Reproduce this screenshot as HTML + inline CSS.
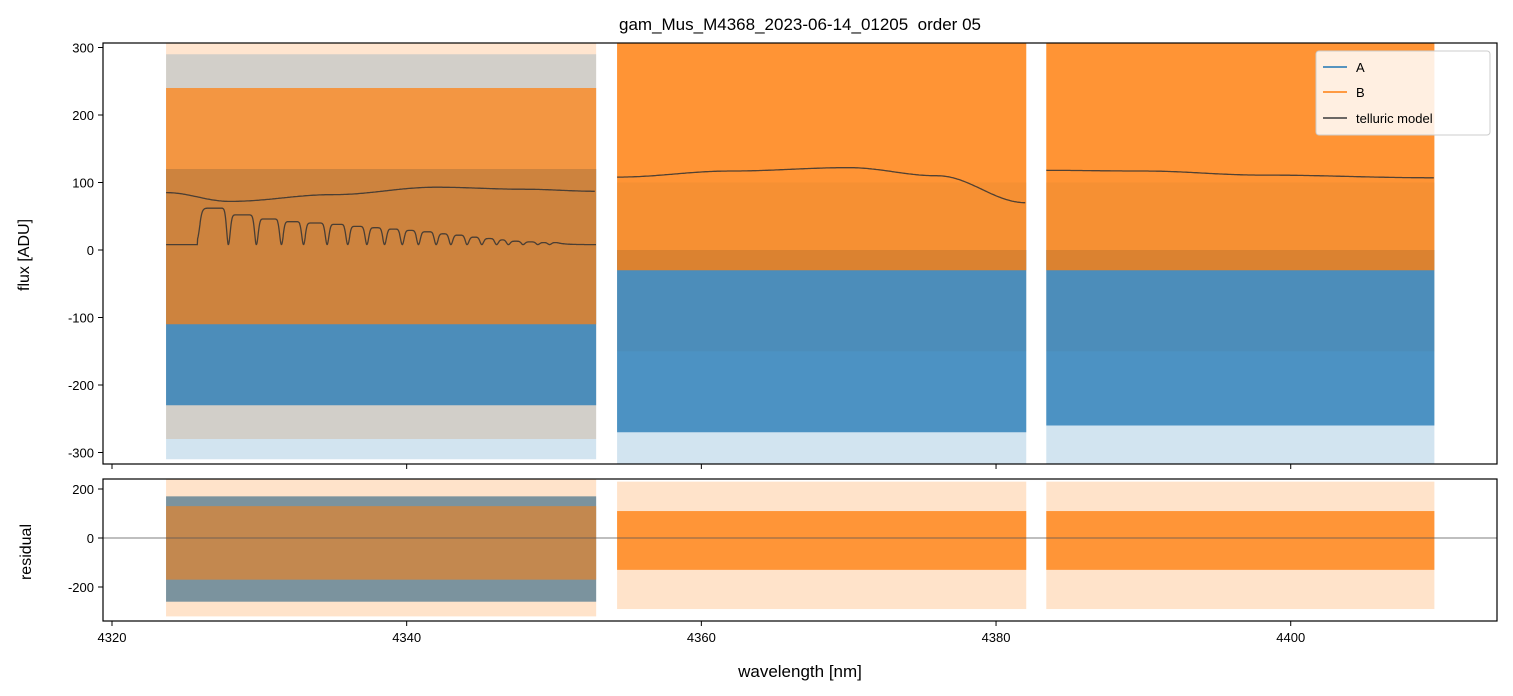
<!DOCTYPE html>
<html><head><meta charset="utf-8">
<style>
html,body{margin:0;padding:0;background:#fff;}
svg{display:block;font-family:"Liberation Sans","DejaVu Sans",sans-serif;}
</style></head>
<body>
<svg id="chart" width="1513" height="696" viewBox="0 0 1513 696" xmlns="http://www.w3.org/2000/svg">
<defs>
<clipPath id="clipTop"><rect x="103" y="43" width="1394" height="421"/></clipPath>
<clipPath id="clipBot"><rect x="103" y="479" width="1394" height="142"/></clipPath>
</defs>
<rect width="1513" height="696" fill="#fff"/>
<text x="800" y="30" font-size="17" text-anchor="middle" fill="#000" style="white-space:pre">gam_Mus_M4368_2023-06-14_01205  order 05</text>
<g id="topData" clip-path="url(#clipTop)"></g>
<g id="botData" clip-path="url(#clipBot)"></g>
<rect x="103" y="43" width="1394" height="421" fill="none" stroke="#000" stroke-width="1.2"/>
<rect x="103" y="479" width="1394" height="142" fill="none" stroke="#000" stroke-width="1.2"/>
<g id="axes"></g>
<text transform="translate(29,255) rotate(-90)" font-size="16" text-anchor="middle">flux [ADU]</text>
<text transform="translate(31,552) rotate(-90)" font-size="16" text-anchor="middle">residual</text>
<text x="800" y="677" font-size="17" text-anchor="middle">wavelength [nm]</text>
<g>
<rect x="1316" y="51" width="174" height="84" rx="3" fill="#fff" fill-opacity="0.85" stroke="#ccc"/>
<line x1="1323" y1="67" x2="1347" y2="67" stroke="#1f77b4" stroke-width="1.5"/>
<text x="1356" y="72" font-size="13">A</text>
<line x1="1323" y1="92" x2="1347" y2="92" stroke="#ff7f0e" stroke-width="1.5"/>
<text x="1356" y="97" font-size="13">B</text>
<line x1="1323" y1="118" x2="1347" y2="118" stroke="#3a3a3a" stroke-width="1.5"/>
<text x="1356" y="123" font-size="13">telluric model</text>
</g>
</svg>
<script>
// ---- data ----
const xTicks = [4320, 4340, 4360, 4380, 4400];
const yTicksTop = [-300, -200, -100, 0, 100, 200, 300];
const yTicksBot = [-200, 0, 200];
const segStart = [4323.67, 4354.28, 4383.41];
const segEnd = [4352.86, 4382.05, 4409.75];
// flux envelopes per segment (dense core low/high, spike low/high)
const aCoreLo = [-230, -270, -260];
const aCoreHi = [120, 0, 0];
const aSpikeLo = [-310, -330, -330];
const aSpikeHi = [290, 100, 100];
const bCoreLo = [-110, -30, -30];
const bCoreHi = [240, 310, 310];
const bSpikeLo = [-280, -150, -150];
const bSpikeHi = [310, 330, 330];
// residual envelopes
const rbCoreLo = [-170, -130, -130];
const rbCoreHi = [130, 110, 110];
const rbSpikeLo = [-320, -290, -290];
const rbSpikeHi = [240, 230, 230];
const raCoreLo = [-260];
const raCoreHi = [170];
// telluric continuum curves
const contW = [[4323.67, 4328, 4335, 4342, 4348, 4352.86],[4354.28, 4362, 4370, 4376, 4382.05],[4383.41, 4390, 4398, 4409.75]];
const contF = [[85, 72, 82, 93, 90, 87],[108, 117, 122, 110, 70],[118, 117, 111, 107]];
// absorption band in segment 1
const bandStartW = 4325.8;
const bandBase = 8;
const dipW = [4327.9,4329.8,4331.5,4333.0,4334.6,4336.0,4337.3,4338.5,4339.7,4340.8,4342.0,4343.0,4344.1,4345.1,4346.1,4346.9,4347.9,4348.9,4349.7];
const plateauF = [62,52,46,42,40,38,35,33,31,29,27,24,22,19,17,15,13,12,11];

// ---- axes ----
const X0=103,X1=1497, W0=4319.39, W1=4414.0;
const xs = w => X0 + (w-W0)/(W1-W0)*(X1-X0);
const yTop = v => 250 - v*0.675;
const yBot = v => 538 - v*0.245;
const NS='http://www.w3.org/2000/svg';
function el(tag, attrs, parent){const e=document.createElementNS(NS,tag);for(const k in attrs)e.setAttribute(k,attrs[k]);parent.appendChild(e);return e;}
const axesG=document.getElementById('axes');
xTicks.forEach(t=>{
  const x=xs(t);
  el('line',{x1:x,y1:464,x2:x,y2:469,stroke:'#000'},axesG);
  el('line',{x1:x,y1:621,x2:x,y2:626,stroke:'#000'},axesG);
  const tx=el('text',{x:x,y:642,'font-size':13,'text-anchor':'middle'},axesG);
  tx.textContent=t;
  
  
});
yTicksTop.forEach(t=>{
  const y=yTop(t);
  el('line',{x1:98,y1:y,x2:103,y2:y,stroke:'#000'},axesG);
  const tx=el('text',{x:94,y:y+5,'font-size':13,'text-anchor':'end'},axesG);
  tx.textContent=t;
  
  
});
yTicksBot.forEach(t=>{
  const y=yBot(t);
  el('line',{x1:98,y1:y,x2:103,y2:y,stroke:'#000'},axesG);
  const tx=el('text',{x:94,y:y+5,'font-size':13,'text-anchor':'end'},axesG);
  tx.textContent=t;
  
  
});

// ---- bands ----
const gTop=document.getElementById('topData'), gBot=document.getElementById('botData');
function band(g, i, lo, hi, yf, color, op, name){
  const x0=xs(segStart[i]), x1=xs(segEnd[i]);
  const r=el('rect',{x:x0,y:yf(hi),width:x1-x0,height:yf(lo)-yf(hi),fill:color,'fill-opacity':op},g);
  
  
}
for(let i=0;i<3;i++){
  band(gTop,i,bSpikeLo[i],bSpikeHi[i],yTop,'#ff7f0e',0.2,'series-b-spikes');
  band(gTop,i,aSpikeLo[i],aSpikeHi[i],yTop,'#1f77b4',0.2,'series-a-spikes');
  band(gTop,i,aCoreLo[i],aCoreHi[i],yTop,'#1f77b4',0.75,'series-a-band');
}
for(let i=0;i<3;i++){
  band(gTop,i,bCoreLo[i],bCoreHi[i],yTop,'#ff7f0e',i==0?0.72:0.8,'series-b-band');
}
band(gBot,0,raCoreLo[0],raCoreHi[0],yBot,'#1f77b4',0.75,'residual-a-band');
for(let i=0;i<3;i++){
  band(gBot,i,rbSpikeLo[i],rbSpikeHi[i],yBot,'#ff7f0e',0.22,'residual-b-spikes');
  band(gBot,i,rbCoreLo[i],rbCoreHi[i],yBot,'#ff7f0e',i==0?0.55:0.78,'residual-b-band');
}
const zl=el('line',{x1:103,y1:yBot(0),x2:1497,y2:yBot(0),stroke:'#555','stroke-width':0.8},gBot);



// ---- telluric model ----
function interp(ws, fs, w){
  for(let k=0;k<ws.length-1;k++){ if(w<=ws[k+1]){const t=(w-ws[k])/(ws[k+1]-ws[k]);const s=(1-Math.cos(Math.PI*t))/2;return fs[k]+(fs[k+1]-fs[k])*s;} }
  return fs[fs.length-1];
}
for(let i=0;i<3;i++){
  let d='';
  for(let w=contW[i][0]; w<=contW[i][contW[i].length-1]+1e-6; w+=0.1){
    d+=(d?'L':'M')+xs(w).toFixed(1)+','+yTop(interp(contW[i],contF[i],w)).toFixed(1);
  }
  const p=el('path',{d:d,fill:'none',stroke:'#333','stroke-width':1.3,'stroke-opacity':0.85},gTop);
  
  
}
(function(){
  let d='';
  for(let w=segStart[0]; w<=segEnd[0]; w+=0.02){
    let f=bandBase;
    if(w>bandStartW){
      let k=0; while(k<dipW.length-1 && w>dipW[k]+(dipW[k+1]-dipW[k])*0.5) k++;
      let env = w<dipW[0] ? plateauF[0] : plateauF[Math.min(k+(w>dipW[k]?1:0), plateauF.length-1)];
      if(w>dipW[dipW.length-1]+0.5) env=bandBase+(plateauF[plateauF.length-1]-bandBase)*Math.exp(-(w-dipW[dipW.length-1]-0.5)*2);
      const rise=1/(1+Math.exp(-(w-bandStartW-0.15)*12));
      let dip=1;
      dipW.forEach(c=>{dip*=1-Math.exp(-Math.pow((w-c)/0.17,2));});
      f=bandBase+(env-bandBase)*rise*dip;
    }
    d+=(d?'L':'M')+xs(w).toFixed(1)+','+yTop(f).toFixed(1);
  }
  const p=el('path',{d:d,fill:'none',stroke:'#333','stroke-width':1.3,'stroke-opacity':0.85},gTop);
  
  
})();
</script>
</body></html>
